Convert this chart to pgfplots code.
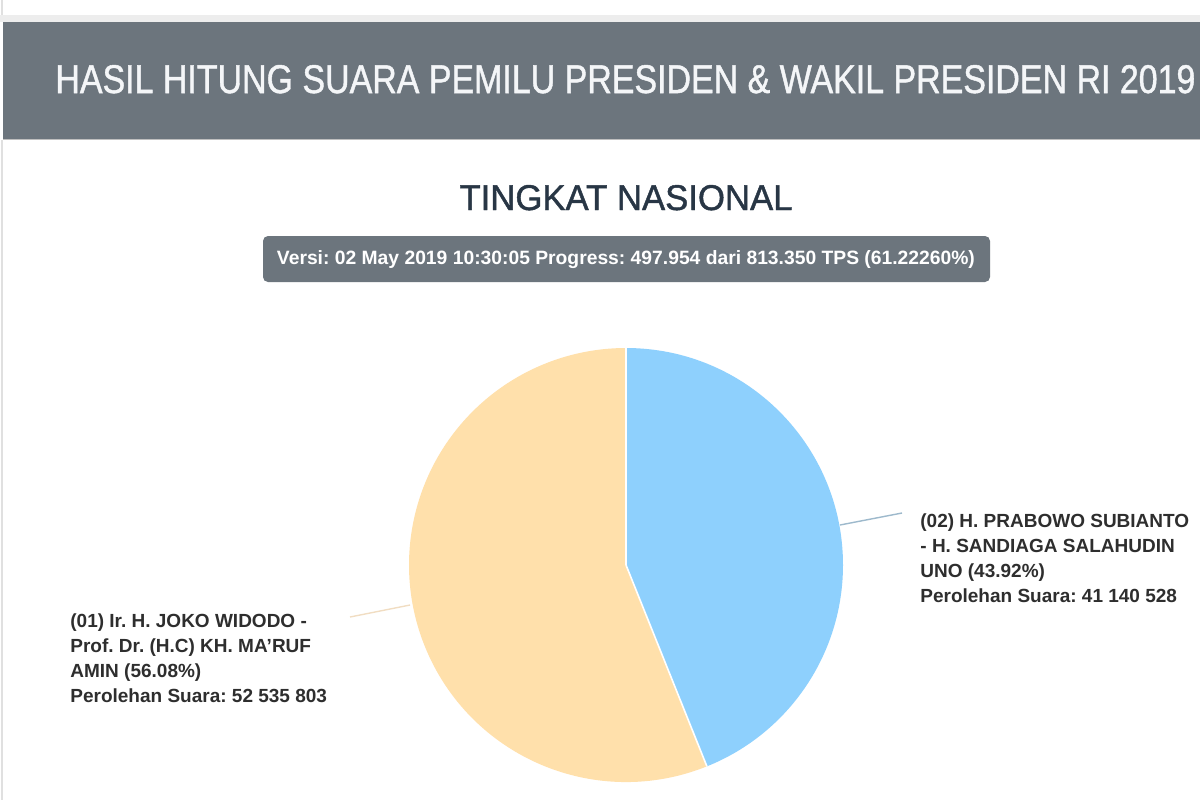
\documentclass[border=0pt]{standalone}
\usepackage{fontspec}
\setmainfont{Liberation Sans}
\newfontfamily\medfont[FakeBold=1.2]{Liberation Sans}
\usepackage{graphicx}
\usepackage{pgfplots}
\usepackage{pgfplotstable}
\pgfplotsset{compat=1.18}
\frenchspacing

\definecolor{hdr}{HTML}{6C757D}
\definecolor{hdrtxt}{HTML}{F4F6F8}
\definecolor{ttl}{HTML}{283645}
\definecolor{lbl}{HTML}{2E2E2E}
\definecolor{pieblue}{HTML}{8ED0FD}
\definecolor{piepeach}{HTML}{FFE0AB}
\definecolor{leadblue}{HTML}{9DB9CC}
\definecolor{leadpeach}{HTML}{F1DDC2}

% hasil hitung suara (persen, perolehan suara)
\pgfplotstableread{
no pct votes
01 56.08 52535803
02 43.92 41140528
}\hasil
\pgfplotstablegetelem{1}{pct}\of\hasil
\pgfmathsetmacro\angB{3.6*\pgfplotsretval}

\begin{document}
\begin{tikzpicture}
\begin{axis}[
  name=ax,
  scale only axis,
  width=600pt,height=400pt,
  xmin=0,xmax=1200,ymin=0,ymax=800,
  y dir=reverse,
  axis lines=none,
  ticks=none,
  clip=false
]
% page background and header bar
\fill[white] (axis cs:0,0) rectangle (axis cs:1200,800);
\fill[black!7] (axis cs:0,15) rectangle (axis cs:1200,22);
\draw[black!12,line width=0.6pt] (axis cs:2,0) -- (axis cs:2,15);
\draw[black!12,line width=0.6pt] (axis cs:2,140) -- (axis cs:2,800);
\fill[hdr] (axis cs:3,22) rectangle (axis cs:1200,139);
\draw[black!25,line width=0.5pt] (axis cs:3,139) -- (axis cs:1200,139);

\node[anchor=base west,inner sep=0pt,text=hdrtxt] at (axis cs:55,93)
  {\resizebox{570pt}{14pt}{\medfont HASIL HITUNG SUARA PEMILU PRESIDEN \& WAKIL PRESIDEN RI 2019}};

\node[anchor=base,inner sep=0pt,text=ttl] at (axis cs:626,210)
  {\resizebox{166.5pt}{12.5pt}{\medfont TINGKAT NASIONAL}};

\fill[hdr,rounded corners=2.5pt] (axis cs:263,236) rectangle (axis cs:990,282);
\node[anchor=center,inner sep=0pt,text=white] at (axis cs:626,259.5)
  {\resizebox{349pt}{!}{\bfseries Versi: 02 May 2019 10:30:05 Progress: 497.954 dari 813.350 TPS (61.22260\%)}};

% pie slices from the table
\fill[pieblue] (axis cs:626,565) -- ++(90:108.5pt)
  arc[start angle=90,delta angle=-\angB,radius=108.5pt] -- cycle;
\fill[piepeach] (axis cs:626,565) -- ++(90-\angB:108.5pt)
  arc[start angle=90-\angB,end angle=-270,radius=108.5pt] -- cycle;
\draw[white,line width=0.8pt] (axis cs:626,565) -- ++(90:108.5pt);
\draw[white,line width=0.8pt] (axis cs:626,565) -- ++(90-\angB:108.5pt);

% leader lines
\draw[leadblue,line width=0.7pt] (axis cs:840,525) -- (axis cs:902,513);
\draw[leadpeach,line width=0.7pt] (axis cs:350,617) -- (axis cs:410,605);

% labels (base anchor = last line)
\node[anchor=base west,inner sep=0pt,text=lbl,font=\fontsize{9.5pt}{12.5pt}\selectfont\bfseries,align=left]
  at (axis cs:920,602)
  {(02) H. PRABOWO SUBIANTO\\- H. SANDIAGA SALAHUDIN\\UNO (43.92\%)\\Perolehan Suara: 41 140 528};
\node[anchor=base west,inner sep=0pt,text=lbl,font=\fontsize{9.5pt}{12.5pt}\selectfont\bfseries,align=left]
  at (axis cs:70,702)
  {(01) Ir. H. JOKO WIDODO -\\Prof. Dr. (H.C) KH. MA’RUF\\AMIN (56.08\%)\\Perolehan Suara: 52 535 803};
\end{axis}
\pgfresetboundingbox
\useasboundingbox (ax.south west) rectangle (ax.north east);
\end{tikzpicture}
\end{document}
